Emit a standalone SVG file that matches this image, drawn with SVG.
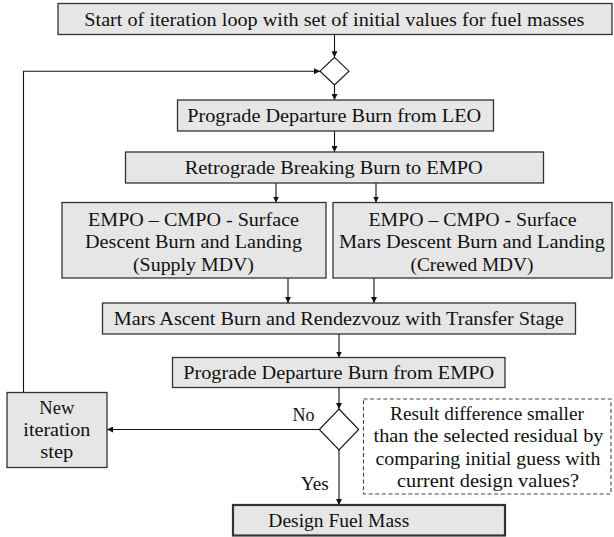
<svg xmlns="http://www.w3.org/2000/svg" width="614" height="537" viewBox="0 0 614 537">
<defs>
<style>
.bg{fill:#ffffff}
.box{fill:#e6e6e6;stroke:#333333;stroke-width:1.3}
.thick{stroke-width:2.2}
.dash{fill:#ffffff;stroke:#444444;stroke-width:1.1;stroke-dasharray:4 2.6}
.dia{fill:#ffffff;stroke:#111111;stroke-width:1.1}
text{font-family:'Liberation Serif','Times New Roman',serif;font-size:18.4px;fill:#111111;text-anchor:middle}
.c{fill:none;stroke:#111111;stroke-width:1.1}
</style>
<marker id="ah" viewBox="0 0 6 6" refX="6" refY="3" markerWidth="6" markerHeight="6" markerUnits="userSpaceOnUse" orient="auto">
<path d="M0,0 L6,3 L0,6 z" fill="#111111"/>
</marker>
</defs>
<rect class="bg" x="0" y="0" width="614" height="537"/>

<g id="connectors">
<path class="c" d="M334.5,34.5 V57.3" marker-end="url(#ah)"/>
<path class="c" d="M334.5,85 V100" marker-end="url(#ah)"/>
<path class="c" d="M334.5,131 V152" marker-end="url(#ah)"/>
<path class="c" d="M276,183 V202.5" marker-end="url(#ah)"/>
<path class="c" d="M376,183 V202.5" marker-end="url(#ah)"/>
<path class="c" d="M288,278 V303" marker-end="url(#ah)"/>
<path class="c" d="M374,278 V303" marker-end="url(#ah)"/>
<path class="c" d="M339,334 V357.5" marker-end="url(#ah)"/>
<path class="c" d="M339,387.5 V409" marker-end="url(#ah)"/>
<path class="c" d="M319.3,429.5 H107" marker-end="url(#ah)"/>
<path class="c" d="M339,450 V505" marker-end="url(#ah)"/>
<path class="c" d="M23.5,392.5 V71.2 H320" marker-end="url(#ah)"/>
<text x="303.5" y="421" textLength="22" lengthAdjust="spacingAndGlyphs">No</text>
<text x="314.7" y="490" textLength="28" lengthAdjust="spacingAndGlyphs">Yes</text>
</g>

<g id="start">
<rect class="box" x="58" y="3.5" width="554" height="31"/>
<text x="334.3" y="25.5" textLength="500" lengthAdjust="spacingAndGlyphs">Start of iteration loop with set of initial values for fuel masses</text>
</g>

<g id="merge">
<polygon class="dia" points="334.5,57.3 349,71.2 334.5,85 320,71.2"/>
</g>

<g id="leo">
<rect class="box" x="177.5" y="100" width="316" height="31"/>
<text x="334.2" y="122.3" textLength="294" lengthAdjust="spacingAndGlyphs">Prograde Departure Burn from LEO</text>
</g>

<g id="retro">
<rect class="box" x="125.5" y="152" width="418" height="31"/>
<text x="333.8" y="174" textLength="298" lengthAdjust="spacingAndGlyphs">Retrograde Breaking Burn to EMPO</text>
</g>

<g id="supply">
<rect class="box" x="62" y="202.5" width="264" height="75.5"/>
<text x="193.5" y="225.5" textLength="211" lengthAdjust="spacingAndGlyphs">EMPO – CMPO - Surface</text>
<text x="193.5" y="248" textLength="217" lengthAdjust="spacingAndGlyphs">Descent Burn and Landing</text>
<text x="193.5" y="270.5" textLength="121" lengthAdjust="spacingAndGlyphs">(Supply MDV)</text>
</g>

<g id="crewed">
<rect class="box" x="333" y="202.5" width="279" height="75.5"/>
<text x="472.5" y="225.5" textLength="208" lengthAdjust="spacingAndGlyphs">EMPO – CMPO - Surface</text>
<text x="472" y="248" textLength="266" lengthAdjust="spacingAndGlyphs">Mars Descent Burn and Landing</text>
<text x="472" y="270.5" textLength="123" lengthAdjust="spacingAndGlyphs">(Crewed MDV)</text>
</g>

<g id="ascent">
<rect class="box" x="102.5" y="303" width="473" height="31"/>
<text x="338.8" y="325" textLength="450" lengthAdjust="spacingAndGlyphs">Mars Ascent Burn and Rendezvouz with Transfer Stage</text>
</g>

<g id="empo">
<rect class="box" x="172.5" y="357.5" width="332.5" height="30"/>
<text x="338.7" y="378.6" textLength="311" lengthAdjust="spacingAndGlyphs">Prograde Departure Burn from EMPO</text>
</g>

<g id="check">
<polygon class="dia" points="339,409 358.7,429.5 339,450 319.3,429.5"/>
</g>

<g id="question">
<rect class="dash" x="363.5" y="399" width="247.5" height="95"/>
<text x="487" y="420" textLength="194" lengthAdjust="spacingAndGlyphs">Result difference smaller</text>
<text x="488.5" y="442.3" textLength="230" lengthAdjust="spacingAndGlyphs">than the selected residual by</text>
<text x="488" y="464.6" textLength="225" lengthAdjust="spacingAndGlyphs">comparing initial guess with</text>
<text x="488" y="487" textLength="182" lengthAdjust="spacingAndGlyphs">current design values?</text>
</g>

<g id="newiter">
<rect class="box" x="7" y="392.5" width="100" height="75"/>
<text x="56.8" y="413.8" textLength="35" lengthAdjust="spacingAndGlyphs">New</text>
<text x="56.8" y="435.8" textLength="67" lengthAdjust="spacingAndGlyphs">iteration</text>
<text x="56.8" y="457.8" textLength="33" lengthAdjust="spacingAndGlyphs">step</text>
</g>

<g id="design">
<rect class="box thick" x="233" y="505" width="272" height="30.5"/>
<text x="338.8" y="526.6" textLength="141" lengthAdjust="spacingAndGlyphs">Design Fuel Mass</text>
</g>
</svg>
